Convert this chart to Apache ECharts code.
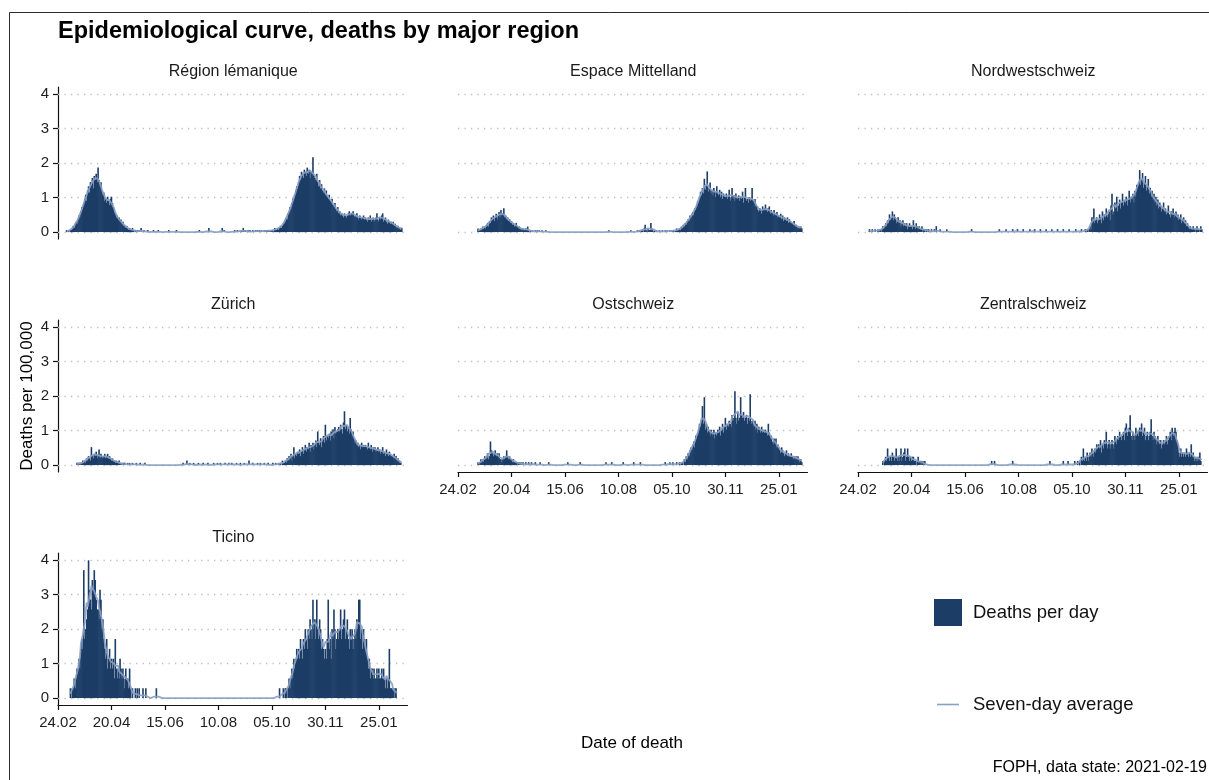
<!DOCTYPE html>
<html>
<head>
<meta charset="utf-8">
<title>Epidemiological curve, deaths by major region</title>
<script src="https://cdn.jsdelivr.net/npm/echarts@6/dist/echarts.min.js"></script>
<style>
  html, body { margin: 0; padding: 0; background: #fff; }
  #chart { width: 1209px; height: 780px; }
</style>
</head>
<body>
<div id="chart"></div>
<script>
// Major regions and their resident population (for the per-100,000 rate)
const regionNames = ['Région lémanique', 'Espace Mittelland', 'Nordwestschweiz',
                     'Zürich', 'Ostschweiz', 'Zentralschweiz', 'Ticino'];
const population = [1660000, 1880000, 1170000, 1540000, 1170000, 830000, 351000];

// Day 0 = 24.02.2020; ticks every eight weeks
const tickDays = [0, 56, 112, 168, 224, 280, 336];
const tickLabels = ['24.02', '20.04', '15.06', '10.08', '05.10', '30.11', '25.01'];
const yTicks = [0, 1, 2, 3, 4];

// Daily deaths by date of death, one value per day starting 24.02.2020
const lemanique = [
  0,0,0,0,0,0,0,0,0,1,0,1,0,1,
  1,2,3,2,4,5,4,6,8,7,10,12,11,14,
  16,18,15,20,22,19,24,23,26,21,27,25,28,24,
  31,25,22,24,20,18,19,15,16,14,17,15,13,16,
  17,14,12,10,9,7,8,6,7,5,6,4,5,3,
  3,2,3,2,1,2,1,1,2,1,0,1,0,1,
  0,1,0,2,0,0,1,0,0,0,1,0,0,0,
  0,0,1,0,0,0,0,1,0,0,0,0,0,0,
  0,0,0,0,1,0,0,0,0,0,0,0,1,0,
  0,0,0,0,0,0,0,0,0,0,0,0,0,0,
  0,0,0,0,0,0,0,0,1,0,0,0,0,0,
  0,0,0,0,2,0,0,0,0,0,0,0,0,0,
  0,0,0,0,2,0,1,0,0,0,0,0,0,0,
  0,0,0,1,0,0,1,0,0,0,1,0,2,0,
  1,0,0,1,0,1,0,0,1,0,0,1,0,1,
  0,1,0,1,0,0,1,0,1,1,0,1,0,1,
  1,1,0,2,1,1,2,1,2,3,2,3,4,5,
  6,7,6,9,10,12,11,14,16,15,18,20,22,21,
  24,27,25,29,28,26,30,29,27,31,28,30,26,29,
  28,36,27,26,25,28,24,22,25,21,23,20,19,21,
  18,20,17,16,18,15,14,16,13,12,14,11,10,12,
  9,10,8,9,8,7,9,8,7,8,9,10,8,9,
  9,10,8,7,8,9,7,6,8,7,6,7,8,6,
  7,6,5,7,6,8,5,6,7,5,6,7,9,6,
  5,7,6,8,9,5,6,7,5,4,6,5,4,5,
  4,5,3,4,3,2,3,2,2,1,2
];
const mittelland = [
  0,0,0,0,0,0,0,0,0,0,0,0,0,0,
  0,0,0,0,0,0,0,2,1,1,2,1,3,2,
  3,2,4,5,3,6,5,8,7,9,6,8,10,7,
  9,11,8,12,9,10,13,8,9,7,8,6,7,5,
  6,4,5,3,4,5,3,2,3,2,2,1,2,1,
  1,2,1,3,1,0,1,0,1,0,0,1,0,1,
  0,1,0,0,1,0,0,0,1,0,0,0,0,0,
  0,0,0,0,0,0,0,0,0,0,0,0,0,0,
  0,0,0,0,0,0,0,0,0,0,0,0,0,0,
  0,0,0,0,0,0,0,0,0,0,0,0,0,0,
  0,0,0,0,0,0,0,0,0,0,0,0,0,0,
  0,0,0,0,1,0,0,0,0,0,0,0,0,0,
  0,0,0,0,0,0,0,0,0,0,0,0,0,1,
  0,0,0,0,0,0,1,0,1,0,1,1,0,2,
  4,1,0,2,1,1,5,2,1,0,1,0,1,0,
  0,1,0,0,1,0,0,1,0,1,0,0,1,1,
  0,1,1,0,1,2,1,1,2,1,3,2,4,3,
  5,4,6,7,6,9,8,10,11,9,13,12,15,17,
  16,19,22,20,24,21,29,23,25,33,22,24,27,21,
  23,20,24,22,19,25,21,20,23,19,22,18,21,20,
  19,21,18,20,23,17,19,24,18,20,17,21,19,18,
  20,17,19,18,22,16,19,24,17,18,16,19,17,18,
  24,17,16,18,15,14,12,11,13,12,10,14,12,13,
  15,12,11,13,14,10,12,11,9,12,10,9,11,8,
  9,8,10,7,9,6,8,7,6,8,5,7,6,5,
  5,4,6,3,4,3,2,3,2,3,2
];
const nordwest = [
  0,0,0,0,0,0,0,0,0,0,0,0,1,0,
  0,1,0,0,1,0,0,1,0,1,1,0,2,1,
  2,3,2,4,3,6,4,5,7,4,6,5,3,4,
  5,3,4,2,3,4,2,3,2,3,1,2,3,2,
  2,1,4,2,1,3,2,1,2,1,1,2,0,1,
  1,0,1,0,1,0,0,1,0,0,1,0,2,0,
  0,0,1,0,0,0,0,0,0,1,0,0,0,0,
  0,0,0,0,0,0,0,0,0,0,0,0,0,0,
  0,0,0,0,0,0,0,1,0,0,0,0,0,0,
  0,0,0,0,0,0,0,0,0,0,0,0,0,0,
  0,0,0,0,0,0,0,0,1,0,0,0,0,0,
  0,1,0,0,0,0,0,0,1,0,0,0,0,1,
  0,0,0,0,0,1,0,0,0,0,0,0,1,0,
  0,0,0,1,0,0,0,0,0,1,0,0,0,0,
  0,1,0,0,0,0,0,1,0,0,0,0,0,1,
  0,0,0,0,0,1,0,0,0,0,0,1,0,0,
  0,0,0,0,1,0,0,0,0,0,1,0,0,0,
  1,0,1,0,1,2,1,5,4,8,3,4,5,3,
  4,6,5,3,7,4,6,5,8,5,6,7,4,9,
  13,6,7,10,8,12,7,9,11,8,10,13,9,11,
  10,12,9,11,14,10,12,11,13,10,14,12,16,15,
  17,21,16,18,20,15,17,19,14,16,18,13,15,12,
  14,11,13,10,12,9,11,8,10,9,7,8,10,7,
  8,6,7,9,6,5,7,6,8,5,6,7,5,6,
  4,5,6,3,4,5,3,4,2,3,2,1,2,1,
  1,2,1,0,1,2,1,1,0,2,1
];
const zuerich = [
  0,0,0,0,0,0,0,0,0,0,0,0,0,0,
  0,0,0,0,0,0,1,1,0,1,0,1,2,1,
  2,1,3,2,4,3,2,8,4,3,5,4,6,3,
  4,7,3,5,4,3,4,5,3,4,5,3,4,3,
  2,3,2,2,1,2,1,1,2,1,0,1,0,1,
  1,0,0,1,0,1,0,0,1,0,0,0,1,0,
  0,0,1,0,0,0,0,1,0,0,0,0,0,0,
  0,0,0,0,0,0,0,0,0,0,0,0,0,0,
  0,0,0,0,0,0,0,0,0,0,0,0,0,0,
  0,0,0,0,0,1,0,0,0,2,0,0,1,0,
  0,0,1,0,0,0,0,1,0,0,0,0,1,0,
  0,0,0,1,0,0,0,0,0,1,0,0,0,1,
  0,0,1,0,0,0,0,1,0,0,0,1,0,0,
  1,0,0,0,0,1,0,0,0,1,0,0,0,1,
  0,0,0,0,2,0,0,0,1,0,0,0,0,1,
  0,0,1,0,0,0,1,0,0,0,1,0,0,0,
  0,1,0,0,1,0,0,1,0,1,0,2,1,1,
  2,1,3,2,4,3,5,2,4,8,3,5,4,6,
  5,7,4,6,8,5,7,9,6,8,7,10,6,9,
  8,10,7,9,11,8,15,10,9,12,8,11,13,10,
  18,11,13,12,14,11,15,13,16,12,17,14,15,16,
  17,15,18,16,14,19,24,16,18,15,17,14,21,16,
  13,15,12,10,11,9,10,8,9,7,10,8,9,8,
  9,8,7,10,8,7,9,6,8,7,8,6,7,8,
  6,7,5,6,8,5,6,4,7,5,4,6,5,4,
  4,3,5,3,4,2,3,2,1,1,0
];
const ostschweiz = [
  0,0,0,0,0,0,0,0,0,0,0,0,0,0,
  0,0,0,0,0,0,0,1,0,1,2,1,2,1,
  3,2,3,4,2,3,8,5,4,3,4,5,3,4,
  3,4,2,2,1,2,3,2,3,5,3,2,3,2,
  2,1,2,1,1,1,0,1,1,0,1,0,1,0,
  0,1,0,0,1,0,0,1,0,0,0,1,0,0,
  0,0,1,0,0,0,0,0,0,0,0,1,0,0,
  0,0,0,0,0,0,0,0,0,0,0,0,0,0,
  0,0,0,1,0,0,0,0,0,0,0,0,0,0,
  0,0,1,0,0,0,0,0,0,0,0,0,0,0,
  0,0,0,0,0,0,0,0,0,0,0,0,0,0,
  0,1,0,0,0,0,0,1,0,0,0,0,0,0,
  0,0,0,0,0,1,0,0,0,0,0,0,0,0,
  0,0,1,0,0,0,0,0,0,1,0,0,0,0,
  0,0,0,0,0,0,0,0,0,0,0,0,0,0,
  0,0,0,0,0,0,0,1,0,0,0,0,1,0,
  0,1,0,0,0,1,0,0,1,0,1,1,0,2,
  1,3,2,4,3,5,6,5,7,8,6,10,9,11,
  12,14,13,15,20,14,23,12,14,11,13,12,10,12,
  11,10,12,9,11,10,12,11,13,10,12,14,11,13,
  16,12,14,13,15,14,13,17,15,16,25,16,14,18,
  15,16,23,17,16,18,15,16,17,14,16,15,24,14,
  15,14,13,15,12,14,11,13,12,11,13,11,12,11,
  12,11,10,14,11,9,10,8,7,9,8,9,6,7,
  6,5,4,6,5,4,3,4,5,3,4,3,3,4,
  3,2,3,2,3,2,3,2,1,2,1
];
const zentral = [
  0,0,0,0,0,0,0,0,0,0,0,0,0,0,
  0,0,0,0,0,0,0,0,0,0,0,0,1,0,
  1,2,1,4,2,1,2,1,3,2,1,2,4,1,
  2,1,2,4,1,2,3,4,1,2,4,2,1,2,
  1,2,2,1,1,0,1,2,1,1,0,1,1,0,
  1,0,0,0,0,0,0,0,0,0,0,0,0,0,
  0,0,0,0,0,0,0,0,0,0,0,0,0,0,
  0,0,0,0,0,0,0,0,0,0,0,0,0,0,
  0,0,0,0,0,0,0,0,0,0,0,0,0,0,
  0,0,0,0,0,0,0,0,0,0,0,0,0,0,
  1,0,0,1,0,0,0,0,0,0,0,0,0,0,
  0,0,0,0,0,0,0,0,1,0,0,0,0,0,
  0,0,0,0,0,0,0,0,0,0,0,0,0,0,
  0,0,0,0,0,0,0,0,0,0,0,0,0,0,
  0,0,0,0,0,1,0,0,0,0,0,0,0,0,
  0,0,0,0,0,1,0,0,0,0,1,0,0,0,
  0,0,0,1,0,0,1,0,1,0,2,1,4,1,
  2,1,3,1,2,3,2,4,3,2,4,3,5,4,
  5,4,6,3,5,4,6,5,8,4,5,6,4,5,
  6,5,4,7,6,5,7,6,8,7,6,7,8,6,
  9,10,7,8,9,12,7,6,8,7,6,9,7,8,
  7,9,8,10,7,8,9,6,7,8,6,7,8,11,
  7,6,8,7,6,5,7,6,5,6,4,5,6,5,
  6,7,5,6,7,8,6,9,7,8,9,8,6,5,
  3,2,4,2,3,2,3,2,4,3,2,3,2,5,
  2,3,1,2,1,2,1,2,3,1,0
];
const ticino = [
  0,0,0,0,0,0,0,0,0,0,0,0,0,1,
  0,1,1,2,1,2,3,3,4,3,5,6,5,13,
  6,7,8,9,14,11,10,9,12,11,13,12,10,9,
  9,8,11,10,7,8,6,5,4,6,3,4,5,3,
  4,3,4,2,6,3,2,3,2,4,3,2,3,2,
  1,3,2,2,1,3,1,0,1,0,0,1,0,1,
  0,1,0,0,0,1,0,0,1,0,0,0,0,0,
  0,0,0,0,0,1,0,0,0,0,0,0,0,0,
  0,0,0,0,0,0,0,0,0,0,0,0,0,0,
  0,0,0,0,0,0,0,0,0,0,0,0,0,0,
  0,0,0,0,0,0,0,0,0,0,0,0,0,0,
  0,0,0,0,0,0,0,0,0,0,0,0,0,0,
  0,0,0,0,0,0,0,0,0,0,0,0,0,0,
  0,0,0,0,0,0,0,0,0,0,0,0,0,0,
  0,0,0,0,0,0,0,0,0,0,0,0,0,0,
  0,0,0,0,0,0,0,0,0,0,0,0,0,0,
  0,0,0,0,0,0,0,0,1,0,0,0,1,0,
  1,1,0,1,2,1,2,3,2,4,3,4,5,4,
  5,4,6,5,4,6,5,7,6,5,7,6,8,7,
  6,10,7,8,6,10,7,6,8,7,5,6,5,4,
  5,4,6,10,5,6,4,7,6,9,7,5,6,7,
  6,7,9,6,7,8,9,6,7,8,6,5,7,6,
  7,5,6,7,6,8,7,10,10,6,7,5,7,6,
  5,6,4,3,4,2,3,3,2,3,2,2,3,2,
  3,2,2,3,2,3,2,1,2,1,2,5,1,1,
  1,1,0,1,1,0
];
const dailyDeaths = [lemanique, mittelland, nordwest, zuerich, ostschweiz, zentral, ticino];

// Facet geometry
const FONT = '"Liberation Sans", Arial, Helvetica, sans-serif';
const BAR_COLOR = '#1b3d66';
const LINE_COLOR = '#889fc6';
const colLeft = [58, 458, 858];
const rowTop = [87, 320, 553];
const panelW = 349.5;
const panelH = 152;

function toRate(count, pop) { return count * 100000 / pop; }

// Centred seven-day mean, starting on the first reported death
function sevenDayAverage(rates) {
  const first = rates.findIndex(v => v > 0);
  const out = [];
  for (let d = first; d < rates.length; d++) {
    let sum = 0, n = 0;
    for (let k = d - 3; k <= d + 3; k++) {
      if (k >= 0 && k < rates.length) { sum += rates[k]; n++; }
    }
    out.push([d, sum / n]);
  }
  return out;
}

const grids = [], xAxes = [], yAxes = [], series = [], graphics = [];

regionNames.forEach((name, i) => {
  const row = Math.floor(i / 3), col = i % 3;
  const showX = row === 2 || (row === 1 && col > 0);
  const showY = col === 0;
  grids.push({ left: colLeft[col], top: rowTop[row], width: panelW, height: panelH });

  xAxes.push({
    gridIndex: i, type: 'value', min: 0, max: 366, interval: 56,
    show: showX,
    axisLine: { show: true, onZero: false, lineStyle: { color: '#111', width: 1.2 } },
    axisTick: { show: true, length: 5, customValues: tickDays, lineStyle: { color: '#111', width: 1.2 } },
    axisLabel: {
      show: true, margin: 10, fontSize: 15, color: '#1e1e1e', fontFamily: FONT,
      customValues: tickDays,
      formatter: v => { const k = tickDays.indexOf(v); return k >= 0 ? tickLabels[k] : ''; }
    },
    splitLine: { show: false }
  });

  yAxes.push({
    gridIndex: i, type: 'value', min: -0.2, max: 4.2,
    show: showY,
    axisLine: { show: true, onZero: false, lineStyle: { color: '#111', width: 1.2 } },
    axisTick: { show: true, length: 5, customValues: yTicks, lineStyle: { color: '#111', width: 1.2 } },
    axisLabel: {
      show: true, margin: 9, fontSize: 15, color: '#1e1e1e', fontFamily: FONT,
      customValues: yTicks,
      formatter: v => (yTicks.indexOf(v) >= 0 ? String(v) : '')
    },
    splitLine: { show: false }
  });

  const rates = dailyDeaths[i].map(c => toRate(c, population[i]));

  series.push({
    name: 'Deaths per day', type: 'bar', xAxisIndex: i, yAxisIndex: i,
    data: rates.map((v, d) => [d, v]),
    barWidth: 1.6,
    itemStyle: { color: BAR_COLOR },
    z: 2, silent: true,
    markLine: {
      silent: true, symbol: 'none', z: 1, animation: false,
      label: { show: false },
      lineStyle: { color: '#bdbdbd', width: 1.3, type: [1.3, 5.2] },
      emphasis: { disabled: true },
      data: yTicks.map(v => ({ yAxis: v }))
    }
  });
  series.push({
    name: 'Seven-day average', type: 'line', xAxisIndex: i, yAxisIndex: i,
    data: sevenDayAverage(rates),
    showSymbol: false, symbol: 'none',
    lineStyle: { color: LINE_COLOR, width: 1.8, opacity: 0.9 },
    itemStyle: { color: LINE_COLOR },
    z: 3, silent: true
  });

  graphics.push({
    type: 'text', x: colLeft[col] + panelW / 2 + 0.5, y: rowTop[row] - 15,
    style: { text: name, font: '16px ' + FONT, fill: '#1a1a1a', textAlign: 'center', textVerticalAlign: 'middle' }
  });
});

// Figure frame, titles and caption
graphics.push(
  { type: 'rect', shape: { x: 9.5, y: 12.5, width: 1400, height: 1000 },
    style: { fill: 'none', stroke: '#2b2b2b', lineWidth: 1 }, z: -1 },
  { type: 'text', x: 58, y: 32,
    style: { text: 'Epidemiological curve, deaths by major region', font: 'bold 23.5px ' + FONT,
             fill: '#000', textAlign: 'left', textVerticalAlign: 'middle' } },
  { type: 'text', x: 27, y: 396, rotation: Math.PI / 2,
    style: { text: 'Deaths per 100,000', font: '17px ' + FONT, fill: '#000',
             textAlign: 'center', textVerticalAlign: 'middle' } },
  { type: 'text', x: 632, y: 743,
    style: { text: 'Date of death', font: '17px ' + FONT, fill: '#000',
             textAlign: 'center', textVerticalAlign: 'middle' } },
  { type: 'text', x: 1207, y: 768,
    style: { text: 'FOPH, data state: 2021-02-19', font: '16px ' + FONT, fill: '#000',
             textAlign: 'right', textVerticalAlign: 'middle' } }
);

const chart = echarts.init(document.getElementById('chart'), null, { renderer: 'canvas' });
chart.setOption({
  animation: false,
  backgroundColor: '#fff',
  grid: grids,
  xAxis: xAxes,
  yAxis: yAxes,
  series: series,
  legend: [
    { data: ['Deaths per day'], left: 934, top: 599, orient: 'vertical', selectedMode: false,
      icon: 'rect', itemWidth: 28, itemHeight: 27, padding: 0,
      itemStyle: { color: BAR_COLOR },
      textStyle: { fontSize: 18.5, color: '#111', fontFamily: FONT, padding: [0, 0, 0, 6] } },
    { data: ['Seven-day average'], left: 937, top: 695, orient: 'vertical', selectedMode: false,
      icon: 'rect', itemWidth: 22, itemHeight: 1.6, padding: 0,
      itemStyle: { color: LINE_COLOR },
      textStyle: { fontSize: 18.5, color: '#111', fontFamily: FONT, padding: [0, 0, 0, 9] } }
  ],
  graphic: graphics
});
</script>
</body>
</html>
